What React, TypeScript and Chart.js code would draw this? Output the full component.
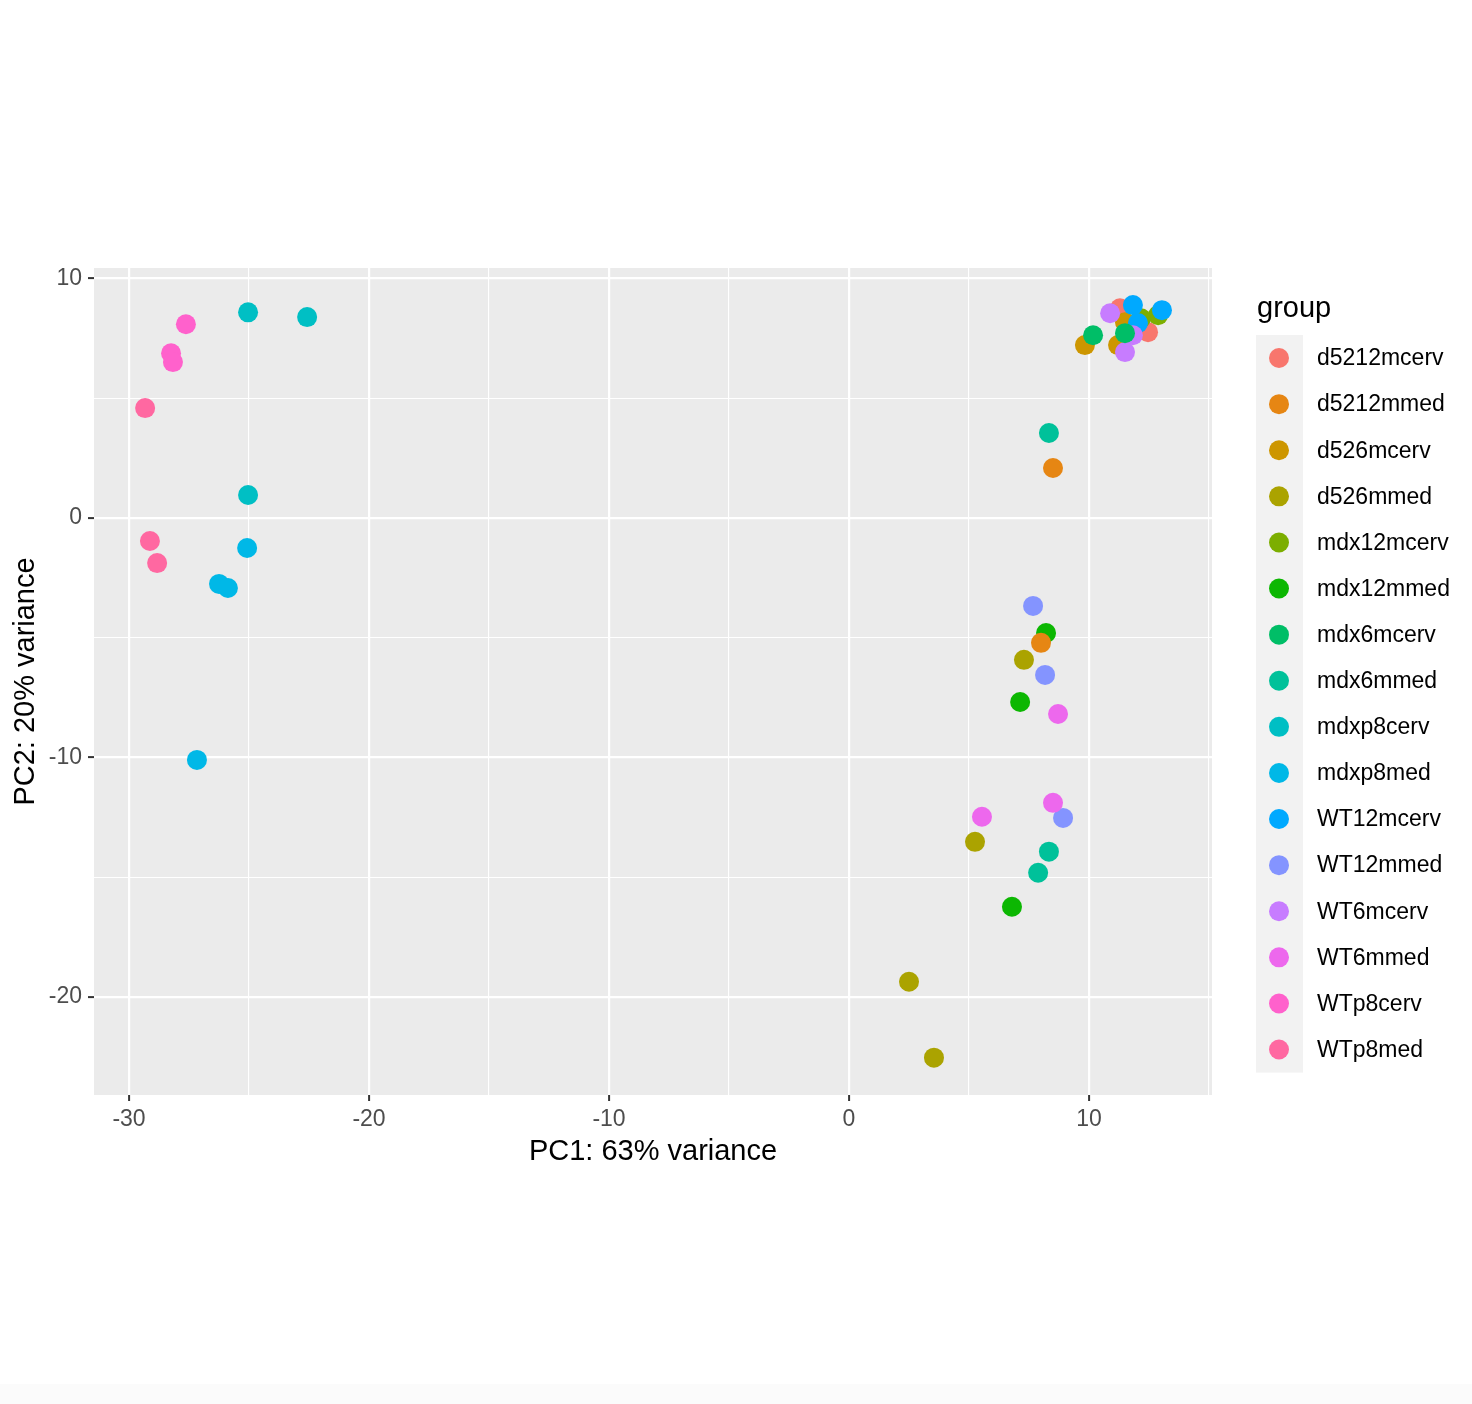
import React, { useEffect, useRef } from 'react';
import { Chart, registerables } from 'chart.js';

Chart.register(...registerables);

// ---- data ----
const groups = [
  'd5212mcerv', 'd5212mmed', 'd526mcerv', 'd526mmed',
  'mdx12mcerv', 'mdx12mmed', 'mdx6mcerv', 'mdx6mmed',
  'mdxp8cerv', 'mdxp8med', 'WT12mcerv', 'WT12mmed',
  'WT6mcerv', 'WT6mmed', 'WTp8cerv', 'WTp8med',
];
const colors = [
  '#F8766D', '#E68613', '#CD9600', '#ABA300',
  '#7CAE00', '#0CB702', '#00BE67', '#00C19A',
  '#00BFC4', '#00B8E7', '#00A9FF', '#8494FF',
  '#C77CFF', '#ED68ED', '#FF61CC', '#FF68A1',
];

const d5212mcerv = [[11.29, 8.76], [12.46, 7.76]];
const d5212mmed = [[8.5, 2.09], [8.0, -5.21]];
const d526mcerv = [[9.83, 7.22], [11.5, 8.18], [11.21, 7.22]];
const d526mmed = [[7.29, -5.92], [5.25, -13.52], [2.5, -19.36], [3.54, -22.53]];
const mdx12mcerv = [[12.88, 8.47], [12.17, 8.34]];
const mdx12mmed = [[8.21, -4.8], [7.13, -7.68], [6.79, -16.23]];
const mdx6mcerv = [[10.17, 7.63], [11.5, 7.72]];
const mdx6mmed = [[8.33, 3.55], [8.33, -13.93], [7.88, -14.81]];
const mdxp8cerv = [[-25.04, 8.59], [-22.58, 8.39], [-25.04, 0.96]];
const mdxp8med = [[-25.08, -1.25], [-26.25, -2.75], [-25.88, -2.92], [-27.17, -10.1]];
const WT12mcerv = [[11.83, 8.89], [12.04, 8.14], [13.04, 8.68]];
const WT12mmed = [[7.67, -3.67], [8.17, -6.55], [8.92, -12.52]];
const WT6mcerv = [[10.88, 8.55], [11.83, 7.63], [11.5, 6.93]];
const WT6mmed = [[8.71, -8.18], [5.54, -12.47], [8.5, -11.89]];
const WTp8cerv = [[-27.63, 8.09], [-28.25, 6.88], [-28.17, 6.51]];
const WTp8med = [[-29.33, 4.59], [-29.13, -0.96], [-28.83, -1.88]];

const seriesPoints = [
  d5212mcerv, d5212mmed, d526mcerv, d526mmed,
  mdx12mcerv, mdx12mmed, mdx6mcerv, mdx6mmed,
  mdxp8cerv, mdxp8med, WT12mcerv, WT12mmed,
  WT6mcerv, WT6mmed, WTp8cerv, WTp8med,
];

const xMajorTicks = [-30, -20, -10, 0, 10];
const xMinorTicks = [-25, -15, -5, 5, 15];
const yMajorTicks = [-20, -10, 0, 10];
const yMinorTicks = [-15, -5, 5];
const xRange = [-31.46, 15.125];
const yRange = [-24.09, 10.44];

const xTitle = 'PC1: 63% variance';
const yTitle = 'PC2: 20% variance';
const legendTitle = 'group';

const FONT = '"Liberation Sans", Arial, Helvetica, sans-serif';

const bgPlugin = {
  id: 'ggbg',
  beforeDraw(chart: any) {
    const { ctx, chartArea } = chart;
    ctx.save();
    ctx.fillStyle = '#FFFFFF';
    ctx.fillRect(0, 0, chart.width, chart.height);
    ctx.fillStyle = '#FBFBFB';
    ctx.fillRect(0, 1384, chart.width, chart.height - 1384);
    ctx.fillStyle = '#EBEBEB';
    ctx.fillRect(chartArea.left, chartArea.top, chartArea.right - chartArea.left, chartArea.bottom - chartArea.top);
    ctx.restore();
  },
};

const decorPlugin = {
  id: 'ggdecor',
  afterDraw(chart: any) {
    const { ctx, chartArea } = chart;
    ctx.save();
    // axis titles
    ctx.fillStyle = '#000000';
    ctx.font = `29px ${FONT}`;
    ctx.textAlign = 'center';
    ctx.textBaseline = 'alphabetic';
    ctx.fillText(xTitle, (chartArea.left + chartArea.right) / 2, 1160);
    ctx.save();
    ctx.translate(34, (chartArea.top + chartArea.bottom) / 2);
    ctx.rotate(-Math.PI / 2);
    ctx.fillText(yTitle, 0, 0);
    ctx.restore();

    // legend
    const lx = 1256;
    const top = 335;
    const rowH = 46.1;
    ctx.textAlign = 'left';
    ctx.font = `29px ${FONT}`;
    ctx.fillText(legendTitle, 1257, 317);
    ctx.fillStyle = '#F2F2F2';
    ctx.fillRect(lx, top, 47, rowH * groups.length);
    ctx.font = `23px ${FONT}`;
    ctx.textBaseline = 'middle';
    groups.forEach((g, i) => {
      const cy = top + rowH * i + rowH / 2;
      ctx.fillStyle = colors[i];
      ctx.beginPath();
      ctx.arc(1279, cy, 10, 0, Math.PI * 2);
      ctx.fill();
      ctx.fillStyle = '#000000';
      ctx.fillText(g, 1317, cy + 1);
    });
    ctx.restore();
  },
};

function makeScale(axis: 'x' | 'y') {
  const major = axis === 'x' ? xMajorTicks : yMajorTicks;
  const minor = axis === 'x' ? xMinorTicks : yMinorTicks;
  const range = axis === 'x' ? xRange : yRange;
  return {
    type: 'linear',
    min: range[0],
    max: range[1],
    afterBuildTicks: (scale: any) => {
      scale.ticks = [...major, ...minor].sort((a, b) => a - b).map((v) => ({ value: v }));
    },
    afterFit: (scale: any) => {
      if (axis === 'x') scale.height = 309;
      else scale.width = 94;
    },
    border: { display: false },
    grid: {
      color: '#FFFFFF',
      lineWidth: (c: any) => (c.tick && major.includes(c.tick.value) ? 2.2 : 1.1),
      drawTicks: true,
      tickLength: 6,
      tickWidth: 2,
      tickColor: (c: any) => (c.tick && major.includes(c.tick.value) ? '#333333' : 'rgba(0,0,0,0)'),
    },
    ticks: {
      autoSkip: false,
      maxRotation: 0,
      minRotation: 0,
      padding: axis === 'x' ? 5 : 6,
      color: '#4D4D4D',
      font: { size: 23, family: FONT },
      callback: (v: any) => (major.includes(v) ? String(v) : ''),
    },
    title: { display: false },
  };
}

export default function App() {
  const ref = useRef<HTMLCanvasElement | null>(null);
  useEffect(() => {
    document.body.style.margin = '0';
    if (!ref.current) return;
    const datasets = groups.map((g, i) => ({
      label: g,
      data: seriesPoints[i].map(([x, y]) => ({ x, y })),
      backgroundColor: colors[i],
      borderWidth: 0,
      pointRadius: 10,
      pointHoverRadius: 10,
      order: i === 1 ? 10.5 : i === 6 ? -1 : 16 - i,
    }));
    const chart = new Chart(ref.current, {
      type: 'scatter',
      data: { datasets },
      options: {
        responsive: false,
        animation: false,
        events: [],
        layout: { padding: { left: 0, top: 268, right: 260, bottom: 0 } },
        plugins: { legend: { display: false }, tooltip: { enabled: false } },
        scales: { x: makeScale('x') as any, y: makeScale('y') as any },
      },
      plugins: [bgPlugin, decorPlugin],
    });
    return () => chart.destroy();
  }, []);
  return (
    <div style={{ width: 1472, height: 1404 }}>
      <canvas ref={ref} width={1472} height={1404} style={{ display: 'block' }} />
    </div>
  );
}
